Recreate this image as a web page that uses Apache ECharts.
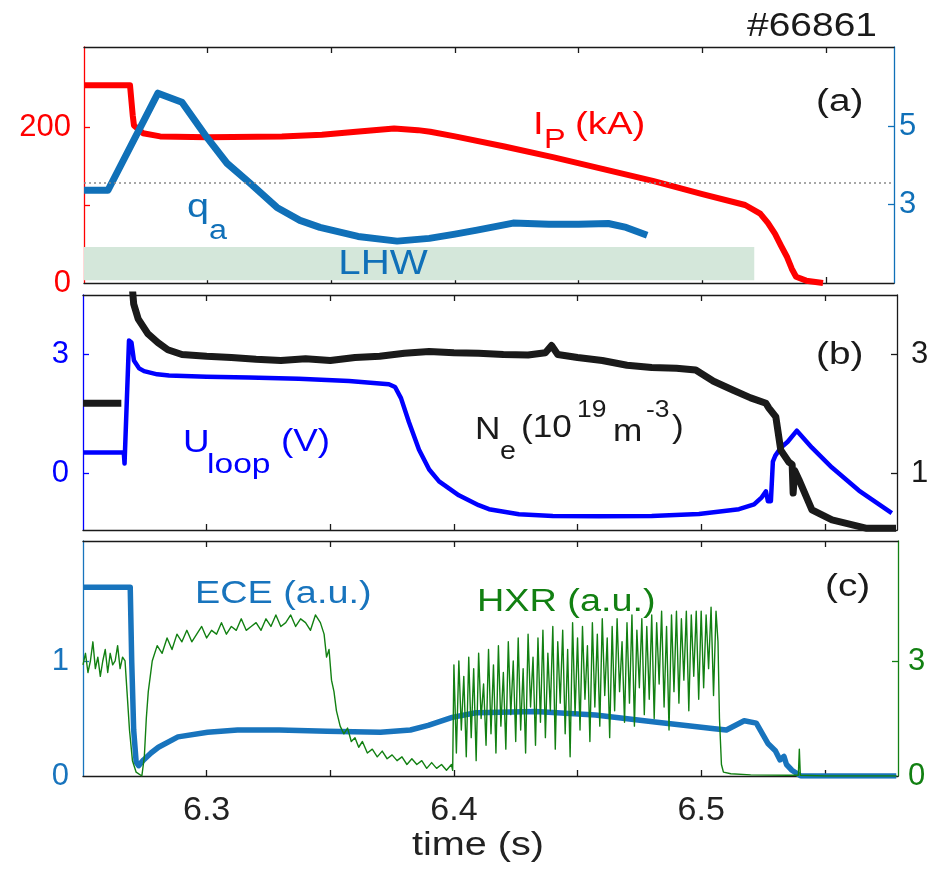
<!DOCTYPE html>
<html><head><meta charset="utf-8">
<script src="https://cdn.jsdelivr.net/npm/echarts@6/dist/echarts.min.js"></script>
<style>html,body{margin:0;padding:0;background:#fff}#c{width:935px;height:875px}</style>
</head><body><div id="c"></div>
<script>
// ---------------- data (time in s) ----------------
const ipData = [[6.25,253.5],[6.2686,253.5],[6.2697,215],[6.2702,202],[6.2739,192],[6.2808,188],[6.30,187],[6.33,188],[6.3462,190],[6.36,194],[6.3754,198],[6.385,196],[6.39,194],[6.40,188],[6.42,175],[6.44,161],[6.46,146],[6.48,131],[6.50,114],[6.5173,100],[6.5234,89],[6.5265,77],[6.5294,63],[6.5318,48],[6.5343,33],[6.5362,18],[6.5379,8],[6.542,3],[6.5488,0]];
const qaData = [[6.25,3.37],[6.2597,3.37],[6.2799,5.85],[6.2896,5.62],[6.2997,4.72],[6.3078,4.06],[6.3171,3.55],[6.328,2.93],[6.3373,2.60],[6.3454,2.42],[6.3608,2.19],[6.3766,2.07],[6.3896,2.14],[6.40,2.25],[6.4089,2.35],[6.4235,2.53],[6.438,2.50],[6.45,2.50],[6.462,2.52],[6.4692,2.42],[6.4777,2.22]];
const lhwWindow = [6.25, 6.521];
const qaRefLine = 3.55;

const uloopData = [[6.25,0.53],[6.2665,0.53],[6.2668,0.25],[6.2676,0.25],[6.2686,3.35],[6.2696,3.3],[6.2706,2.85],[6.2727,2.65],[6.2747,2.58],[6.28,2.5],[6.2848,2.47],[6.30,2.44],[6.3171,2.42],[6.3373,2.39],[6.3576,2.33],[6.3737,2.25],[6.3762,2.18],[6.3786,1.9],[6.3818,1.3],[6.3859,0.6],[6.39,0.1],[6.394,-0.2],[6.402,-0.55],[6.41,-0.8],[6.4142,-0.9],[6.4263,-1.03],[6.44,-1.07],[6.4587,-1.08],[6.48,-1.07],[6.4991,-1.02],[6.5153,-0.9],[6.5214,-0.78],[6.5245,-0.6],[6.5262,-0.45],[6.5270,-0.7],[6.5282,-0.7],[6.5290,0.3],[6.5300,0.45],[6.5322,0.65],[6.5350,0.8],[6.5387,1.08],[6.5448,0.65],[6.5529,0.15],[6.5638,-0.43],[6.5771,-1.0]];
const nePre = [[6.25,2.18],[6.2655,2.18]];
const neData = [[6.2700,4.1],[6.2705,3.85],[6.2723,3.6],[6.2762,3.35],[6.2803,3.2],[6.2843,3.08],[6.29,3.0],[6.30,2.97],[6.31,2.95],[6.32,2.92],[6.33,2.9],[6.34,2.93],[6.35,2.9],[6.36,2.95],[6.37,2.97],[6.38,3.02],[6.39,3.05],[6.40,3.03],[6.41,3.02],[6.42,3.0],[6.43,2.99],[6.437,3.03],[6.4395,3.15],[6.442,3.0],[6.45,2.95],[6.46,2.9],[6.47,2.82],[6.48,2.78],[6.49,2.77],[6.4978,2.74],[6.505,2.55],[6.513,2.4],[6.52,2.27],[6.5262,2.18],[6.5274,2.1],[6.5302,1.95],[6.5322,1.39],[6.5355,1.19],[6.5368,1.15],[6.5372,0.67],[6.5378,1.05],[6.5395,0.9],[6.5448,0.39],[6.5529,0.22],[6.5666,0.08],[6.5788,0.08]];

const eceData = [[6.25,1.64],[6.2691,1.64],[6.2697,1.0],[6.2705,0.4],[6.2715,0.12],[6.2725,0.09],[6.2745,0.14],[6.2775,0.2],[6.2805,0.25],[6.2884,0.34],[6.3004,0.38],[6.3125,0.40],[6.3294,0.40],[6.3487,0.39],[6.3703,0.38],[6.3824,0.40],[6.3896,0.44],[6.3993,0.51],[6.4089,0.55],[6.433,0.56],[6.4572,0.53],[6.4813,0.47],[6.5054,0.41],[6.5102,0.40],[6.5174,0.48],[6.5223,0.46],[6.5271,0.28],[6.5300,0.22],[6.5319,0.14],[6.5335,0.17],[6.5345,0.10],[6.5367,0.05],[6.5403,0.0],[6.5789,0.0]];

// HXR: regularly sampled noisy stretches + hand-read transitions
const hxrPreStart = 6.25, hxrPreStep = 0.001;
const hxrPre = [2.9,3.2,2.7,3.0,3.5,2.8,3.1,2.6,3.0,3.3,2.7,3.2,2.9,3.0,3.4,2.8,3.1];
const hxrDrop = [[6.267,3.0],[6.2678,2.2],[6.2688,1.2],[6.2700,0.4],[6.2715,0.1],[6.2738,0.0],[6.2748,0.5],[6.2756,1.5],[6.2764,2.2],[6.2772,2.6]];
const hxrPlatStart = 6.278, hxrPlatStep = 0.002;
const hxrPlat = [3.0,3.4,3.2,3.6,3.3,3.7,3.5,3.8,3.5,3.7,3.9,3.6,3.8,3.7,4.0,3.7,3.9,3.8,4.1,3.8,3.9,4.0,3.8,4.1,3.9,4.2,3.9,4.0,4.2,3.9,4.1,4.0,3.8,4.2,4.0];
const hxrFall = [[6.3475,3.7],[6.3485,3.1],[6.3495,3.3],[6.3505,2.5],[6.3515,2.2],[6.3525,1.7],[6.354,1.3],[6.3555,1.1],[6.357,1.25],[6.3585,0.9],[6.36,1.0],[6.3615,0.75],[6.363,0.9],[6.365,0.6],[6.367,0.7],[6.369,0.5],[6.371,0.65],[6.373,0.45],[6.375,0.55],[6.377,0.4],[6.379,0.5],[6.381,0.3],[6.383,0.45],[6.385,0.3],[6.387,0.4],[6.389,0.2],[6.391,0.35],[6.393,0.2],[6.395,0.3],[6.397,0.15],[6.399,0.3],[6.3995,0.15]];
const hxrBurstStart = 6.40, hxrBurstStep = 0.001;
const hxrBurst = [2.9,0.6,3.0,1.2,2.6,0.5,3.1,1.0,2.8,0.4,
 3.2,1.5,2.4,0.8,3.3,1.1,2.9,0.6,3.4,1.3,
 2.7,0.7,3.5,1.6,3.0,0.9,3.6,1.2,2.8,0.6,
 3.7,1.8,3.1,0.8,3.6,1.4,3.8,1.0,3.2,1.7,
 3.9,0.7,3.5,1.9,3.8,1.1,3.3,0.5,4.0,1.6,
 3.6,1.2,3.9,2.0,3.4,0.9,4.0,1.8,3.7,1.3,
 4.1,2.1,3.6,1.0,3.9,1.7,4.1,2.2,3.5,1.4,
 4.0,1.9,4.2,1.3,3.8,2.3,4.1,1.6,3.9,2.0,
 4.2,1.5,4.0,2.4,4.3,1.8,3.9,1.2,4.2,2.2,
 4.3,1.9,4.1,2.5,4.3,1.7,4.2,2.6,4.3,2.0,
 4.3,2.3,4.2,2.8,4.4,2.1,4.3];
const hxrEnd = [[6.5068,3.5],[6.5074,1.5],[6.5082,0.3],[6.509,0.1],[6.512,0.06],[6.52,0.03],[6.535,0.02],[6.5393,0.02],[6.5397,0.7],[6.5401,0.02],[6.55,0.0],[6.579,0.0]];

// axis ticks / labels
const xTicks = [6.3,6.35,6.4,6.45,6.5,6.55];
const xLabels = [6.3,6.4,6.5];
const ipTicks = [100,200], ipLabels = [0,200];
const qaTicks = [3,5], qaLabels = [3,5];
const uTicks = [0,3], uLabels = [0,3];
const neTicks = [1,3], neLabels = [1,3];
const eceTicks = [1], eceLabels = [0,1];
const hxrTicks = [3], hxrLabels = [0,3];

// --------------- build ----------------
function sampled(t0, dt, vals){ return vals.map((v,i)=>[+(t0+i*dt).toFixed(5), v]); }
const hxrData = [].concat(sampled(hxrPreStart,hxrPreStep,hxrPre), hxrDrop, sampled(hxrPlatStart,hxrPlatStep,hxrPlat), hxrFall, sampled(hxrBurstStart,hxrBurstStep,hxrBurst), hxrEnd);

const FF = '"Liberation Sans", Arial, Helvetica, sans-serif';
const RED='#ff0000', QBLUE='#1070b8', UBLUE='#0000ff', EBLUE='#1874bd', GREEN='#128012', BLK='#1a1a1a';

const grids = [
  {left:84, right:41, top:47, height:236},
  {left:83, right:38, top:295, height:235},
  {left:83, right:37, top:541, height:235}
];
const xMax = [6.5775, 6.5792, 6.5796];

function xAx(gi, pos, showLabel){
  return {type:'value', gridIndex:gi, position:pos, min:6.25, max:xMax[gi],
    axisLine:{show:true, onZero:false, lineStyle:{color:BLK, width:1.3}},
    axisTick:{show:true, inside:true, length:6, customValues:xTicks, lineStyle:{color:BLK, width:1.3}},
    axisLabel:{show:showLabel, customValues:xLabels, fontSize:34, color:'#222', margin:18, fontFamily:FF},
    splitLine:{show:false}};
}
function yAx(gi, pos, min, max, color, ticks, labels, margin){
  return {type:'value', gridIndex:gi, position:pos, min:min, max:max,
    axisLine:{show:true, onZero:false, lineStyle:{color:color, width:1.3}},
    axisTick:{show:true, inside:true, length:6, customValues:ticks, lineStyle:{color:color, width:1.3}},
    axisLabel:{show:true, customValues:labels, fontSize:31, color:color, margin:margin, fontFamily:FF},
    splitLine:{show:false}};
}
const xAxis = [xAx(0,'bottom',false), xAx(1,'bottom',false), xAx(2,'bottom',true),
               xAx(0,'top',false), xAx(1,'top',false), xAx(2,'top',false)];
const yAxis = [
  yAx(0,'left',0,302.6,RED,ipTicks,ipLabels,13),
  yAx(0,'right',1,7.03,QBLUE,qaTicks,qaLabels,5),
  yAx(1,'left',-1.425,4.5,UBLUE,uTicks,uLabels,14),
  yAx(1,'right',0.05,4.0,BLK,neTicks,neLabels,14),
  yAx(2,'left',0,2.043,EBLUE,eceTicks,eceLabels,14),
  yAx(2,'right',0,6.13,GREEN,hxrTicks,hxrLabels,10)
];

function line(xi, yi, data, color, w, extra){
  return Object.assign({type:'line', xAxisIndex:xi, yAxisIndex:yi, data:data, showSymbol:false, symbol:'none',
    lineStyle:{color:color, width:w, join:'round'}, itemStyle:{color:color}, animation:false, silent:true}, extra||{});
}
const series = [
  line(0,0,ipData,RED,6,{z:2}),
  line(0,1,qaData,QBLUE,7,{z:3,
    markArea:{silent:true, itemStyle:{color:'#d4e7da'}, data:[[{xAxis:lhwWindow[0], yAxis:1.07},{xAxis:lhwWindow[1], yAxis:1.92}]]},
    markLine:{silent:true, symbol:'none', label:{show:false}, lineStyle:{type:[2,3], color:'#8a8a8a', width:1.5}, data:[{yAxis:qaRefLine}]}
  }),
  line(1,2,uloopData,UBLUE,4.5,{z:2}),
  line(1,3,nePre,BLK,7,{z:3}),
  line(1,3,neData,BLK,7,{z:3}),
  line(2,4,eceData,EBLUE,5.5,{z:2}),
  line(2,5,hxrData,GREEN,1.4,{z:3})
];

function txt(x,y,s,size,color,align,sx){
  return {type:'text', x:x, y:y, scaleX:sx||1.2, scaleY:1, silent:true, z:100,
    style:{text:s, font: size+'px '+FF, fill:color, align:align||'left', verticalAlign:'middle', textAlign:align||'left', textVerticalAlign:'middle'}};
}
const graphic = [
  txt(877,27,'#66861',33,BLK,'right',1.18),
  txt(816,102,'(a)',31,BLK,'left',1.25),
  txt(533,125,'I',32,RED), txt(544,141,'P',27,RED), txt(575,125,'(kA)',32,RED),
  txt(187,208,'q',33,QBLUE), txt(209,232,'a',27,QBLUE),
  txt(383,264,'LHW',35,QBLUE,'center',1.15),
  txt(816,355,'(b)',31,BLK,'left',1.25),
  txt(183,443,'U',32,UBLUE,'left',1.15), txt(207,465,'loop',28,UBLUE,'left',1.2), txt(281,442,'(V)',32,UBLUE,'left',1.15),
  txt(475,430,'N',32,BLK,'left',1.1), txt(500,452,'e',26,BLK,'left',1.1), txt(521,428,'(10',32,BLK,'left',1.1), txt(577,410,'19',24,BLK,'left',1.1),
  txt(613,432,'m',32,BLK,'left',1.1), txt(646,410,'-3',24,BLK,'left',1.1), txt(672,428,')',32,BLK,'left',1.1),
  txt(825,587,'(c)',31,BLK,'left',1.25),
  txt(195,594,'ECE (a.u.)',31,EBLUE,'left',1.22),
  txt(477,602,'HXR (a.u.)',31,GREEN,'left',1.22),
  txt(478,846,'time (s)',33,'#222','center',1.2)
];

const chart = echarts.init(document.getElementById('c'), null, {renderer:'canvas'});
chart.setOption({backgroundColor:'#fff', animation:false, grid:grids, xAxis:xAxis, yAxis:yAxis, series:series, graphic:graphic});
</script></body></html>
